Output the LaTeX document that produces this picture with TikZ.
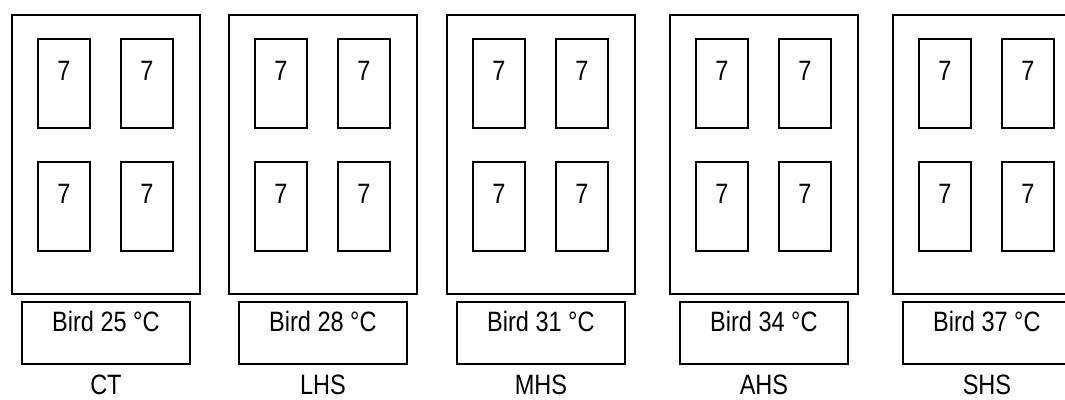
\documentclass[tikz,border=0pt]{standalone}
\usepackage{fontspec}
\setmainfont{Liberation Sans}[FakeStretch=0.84]
\tikzset{
  hall/.style={draw,minimum width=141pt,minimum height=209.25pt,anchor=north west,inner sep=0pt},
  cage/.style={draw,minimum width=39pt,minimum height=66.5pt,anchor=north west,inner sep=0pt},
  tag/.style={draw,minimum width=126pt,minimum height=46.5pt,anchor=north west,inner sep=0pt}
}
\begin{document}
\begin{tikzpicture}[x=0.75pt,y=-0.75pt,line width=1.4pt,every node/.style={font=\fontsize{21}{25}\selectfont}]
 \useasboundingbox (0,0) rectangle (1065,400);
 \clip (0,0) rectangle (1065,400);
 \foreach \x/\t/\n [count=\i] in {11/25/CT,228/28/LHS,446/31/MHS,669/34/AHS,892/37/SHS}{
  % chamber with four cages
  \node[hall] (h\i) at (\x,14) {};
  \node[cage] (c\i a) at (\x+26,38) {};
  \node[cage] (c\i b) at (\x+109,38) {};
  \node[cage] (c\i c) at (\x+26,161) {};
  \node[cage] (c\i d) at (\x+109,161) {};
  \foreach \c in {a,b,c,d}
   \node (n\i\c) at ([yshift=-25pt]c\i\c.north) {7};
  % bird temperature and group name
  \node[tag] (t\i) at (\x+10,301) {};
  \node (b\i) at ([yshift=-15.5pt]t\i.north) {Bird \t\ °C};
  \node[inner sep=0pt] (g\i) at ([yshift=-15pt]t\i.south) {\n};
 }
\end{tikzpicture}
\end{document}
